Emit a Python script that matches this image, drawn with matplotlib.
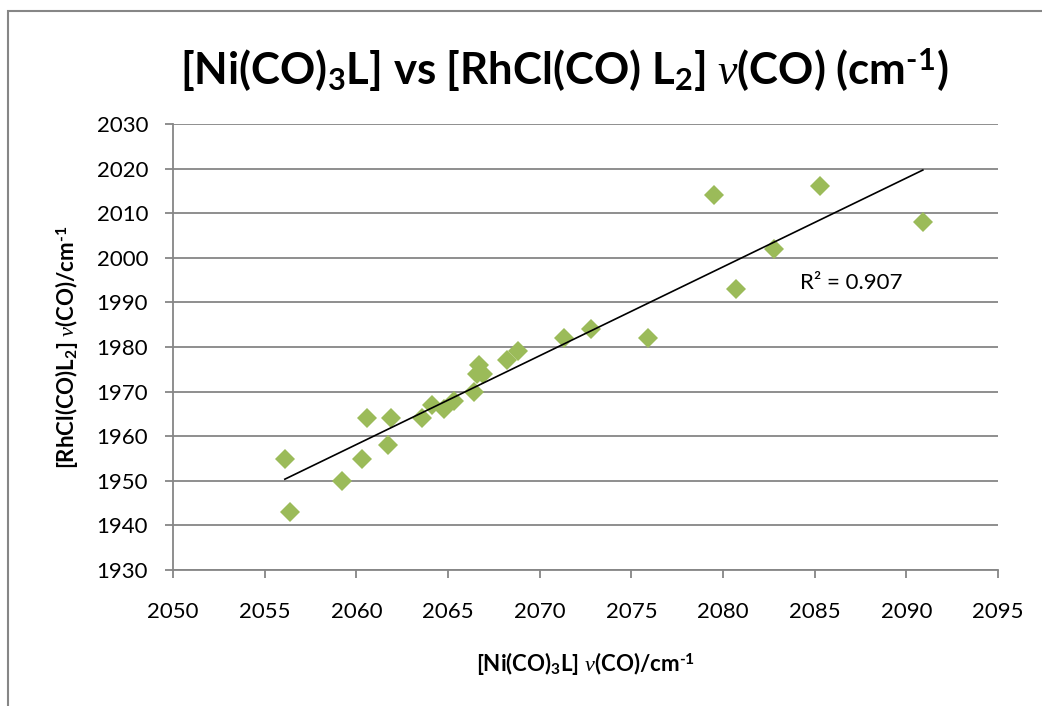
import numpy as np
import matplotlib
matplotlib.use("Agg")
import matplotlib.pyplot as plt
from matplotlib.patches import Rectangle

# v(CO) values, cm-1
ni_co = [2056.1, 2056.4, 2059.2, 2060.3, 2060.6, 2061.7, 2061.9, 2063.6, 2064.1,
         2064.8, 2065.3, 2066.4, 2066.7, 2066.6, 2066.9, 2068.2, 2068.8, 2071.3,
         2072.8, 2075.9, 2079.5, 2080.7, 2082.8, 2085.3, 2090.9]
rh_co = [1955, 1943, 1950, 1955, 1964, 1958, 1964, 1964, 1967,
         1966, 1968, 1970, 1976, 1974, 1974, 1977, 1979, 1982,
         1984, 1982, 2014, 1993, 2002, 2016, 2008]
r2_label = "R² = 0.907"

GRAY = "#868686"
GREEN = "#9BBB59"

plt.rcParams["font.family"] = ["Lato", "DejaVu Sans"]
plt.rcParams["mathtext.fontset"] = "custom"
plt.rcParams["mathtext.rm"] = "Lato"
plt.rcParams["mathtext.it"] = "Liberation Serif:italic"

fig = plt.figure(figsize=(10.42, 7.06), dpi=100)
ax = fig.add_axes([173 / 1042, 1 - 570 / 706, (998 - 173) / 1042, (570 - 124) / 706])

# рамка всей диаграммы (правый и нижний край за пределами картинки)
fig.add_artist(Rectangle((8 / 1042, -0.1), 1.2, 1 - 11 / 706 + 0.1,
                         transform=fig.transFigure, fill=False,
                         edgecolor=GRAY, lw=1.5))

x = np.array(ni_co)
y = np.array(rh_co)
ax.plot(x, y, linestyle="none", marker="D", markersize=10,
        color=GREEN, markeredgewidth=0, zorder=3)

# линейный тренд
k, b = np.polyfit(x, y, 1)
xt = np.array([x.min(), x.max()])
ax.plot(xt, k * xt + b, color="black", lw=1.2, zorder=4)
ax.text(2084.2, 1994.4, r2_label, fontsize=16, ha="left", va="center")

ax.set_xlim(2050, 2095)
ax.set_ylim(1930, 2030)
ax.set_xticks(np.arange(2050, 2096, 5))
ax.set_yticks(np.arange(1930, 2031, 10))
ax.yaxis.grid(True, color=GRAY, lw=1.3)
ax.set_axisbelow(True)

for s in ["top", "right"]:
    ax.spines[s].set_visible(False)
for s in ["left", "bottom"]:
    ax.spines[s].set_color(GRAY)
    ax.spines[s].set_linewidth(1.3)
ax.tick_params(axis="both", direction="out", length=6, width=1.3,
               color=GRAY, labelsize=16)
ax.tick_params(axis="x", pad=17)
ax.tick_params(axis="y", pad=12)

sup = r"$^\mathregular{‐1}$"
# заголовок центрирован по всей диаграмме, а не по области графика
fig.text(564 / 1042, 1 - 70 / 706,
         r"[Ni(CO)$_\mathregular{3}$L] vs [RhCl(CO) L$_\mathregular{2}$] $\nu$(CO) (cm" + sup + ")",
         fontsize=31.5, fontweight="bold", ha="center", va="center")
ax.set_xlabel(r"[Ni(CO)$_\mathregular{3}$L] $\nu$(CO)/cm" + sup,
              fontsize=16, fontweight="bold", labelpad=20)
ax.set_ylabel(r"[RhCl(CO)L$_\mathregular{2}$] $\nu$(CO)/cm" + sup,
              fontsize=16, fontweight="bold", labelpad=12)

fig.savefig("out.png", dpi=100)
